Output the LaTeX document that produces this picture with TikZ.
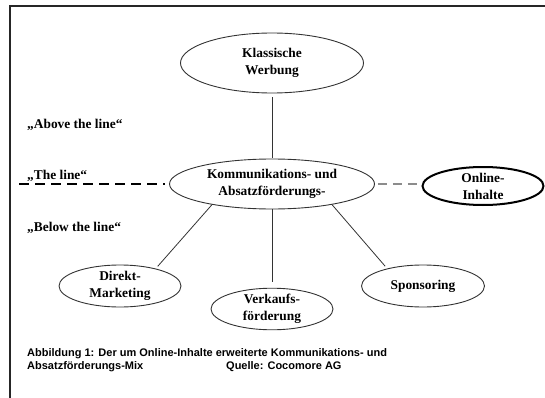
\documentclass[tikz,border=0pt]{standalone}
\usepackage{fontspec}
\setmainfont{Liberation Serif}
\newfontfamily\arialfont{Liberation Sans}
\usetikzlibrary{shapes.geometric, positioning}

\begin{document}
\begin{tikzpicture}[x=1pt, y=-1pt,
  instrument/.style={ellipse, draw=black!80, line width=0.9pt, inner sep=0pt, align=center,
    font=\fontsize{13.4}{17}\selectfont\bfseries},
  ebene/.style={anchor=west, inner sep=0pt, font=\fontsize{13.4}{17}\selectfont\bfseries},
  verbindung/.style={draw=black!80, line width=0.8pt}]
  \useasboundingbox (0,0) rectangle (545,398);
  \draw[line width=1.5pt, black!85] (545,6) -- (10,6) -- (10,398);

  % Instrumente
  \node[instrument, minimum width=183pt, minimum height=60pt] (klassisch) at (272,63) {Klassische\\Werbung};
  \node[instrument, minimum width=205pt, minimum height=50pt] (mix) at (272,184) {Kommunikations- und\\Absatzförderungs-};
  \node[instrument, draw=black, line width=2pt, inner ysep=-2pt, minimum width=121pt, minimum height=38pt] (online) at (483,186) {Online-\\Inhalte};
  \node[instrument, minimum width=122pt, minimum height=42pt] (direkt) at (120,286) {Direkt-\\Marketing};
  \node[instrument, minimum width=122pt, minimum height=41pt] (verkauf) at (272,309) {Verkaufs-\\förderung};
  \node[instrument, minimum width=123pt, minimum height=42pt] (sponsoring) at (423,286) {Sponsoring};

  % Ebenen
  \node[ebene] (oben) at (27,125) {„Above the line“};
  \node[ebene] (linie) at (27,176) {„The line“};
  \node[ebene] (unten) at (27,228) {„Below the line“};

  \coordinate (links) at (19,184);
  \draw[line width=2.5pt, dash pattern=on 10pt off 6pt, shorten >=4pt] (links) -- (mix.west);
  \draw[line width=2.5pt, black!45, dash pattern=on 9pt off 6pt, shorten <=3pt, shorten >=2pt]
    (mix.east) -- (mix.east -| online.west);

  % Verbindungen
  \draw[verbindung, shorten <=4pt, shorten >=1pt] (klassisch) -- (mix);
  \draw[verbindung, shorten >=6pt] (mix) -- (verkauf);
  \draw[verbindung, shorten >=3pt] (mix.199) -- (direkt.26);
  \draw[verbindung, shorten >=3pt] (mix.341) -- (sponsoring.154);

  \node[anchor=north west, align=left, inner sep=0pt, font=\arialfont\bfseries\fontsize{11}{13.5}\selectfont]
    (legende) at (27,348) {Abbildung 1: Der um Online-Inhalte erweiterte Kommunikations- und\\
    \makebox[199pt][l]{Absatzförderungs-Mix}Quelle: Cocomore AG};
\end{tikzpicture}
\end{document}
